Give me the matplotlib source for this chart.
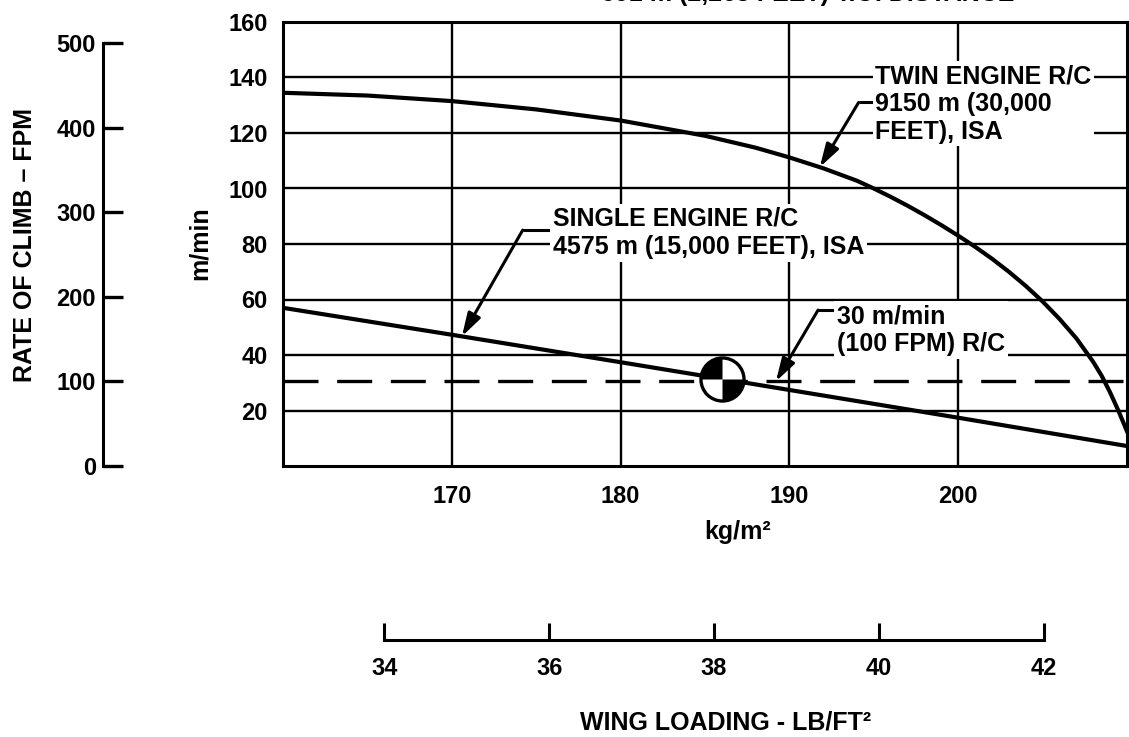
import numpy as np
import matplotlib
matplotlib.use('Agg')
import matplotlib.pyplot as plt
from matplotlib.path import Path

plt.rcParams['font.family'] = ['Liberation Sans', 'DejaVu Sans']
plt.rcParams['font.weight'] = 'bold'
plt.rcParams['axes.labelweight'] = 'bold'

# rate of climb (m/min) against wing loading (kg/m2)
wl_twin = [160, 165, 170, 175, 180, 185, 188, 190, 192, 194, 195, 196, 197, 198,
           199, 200, 201, 202, 203, 204, 205, 206, 207, 208, 208.5, 209, 209.5, 210]
rc_twin = [134.5, 133.5, 131.5, 128.5, 124.5, 119, 114.7, 111.2, 107.3, 102.8, 100,
           97, 93.8, 90.4, 86.8, 83, 79, 74.7, 70, 64.9, 59.3, 53, 46, 37.5,
           32.5, 26.5, 19.8, 12.5]
wl_single = [160, 170, 180, 190, 200, 210]
rc_single = [57.0, 47.3, 37.4, 27.4, 17.4, 7.2]

RC_MIN_FPM = 100
FT_PER_M = 3.28084
KG_PER_LB_FT2 = 4.88243
design_wl = 186.0

x_ticks = [170, 180, 190, 200]
y_ticks = [20, 40, 60, 80, 100, 120, 140, 160]
fpm_ticks = [0, 100, 200, 300, 400, 500]
lb_ticks = [34, 36, 38, 40, 42]

rc_min = RC_MIN_FPM / FT_PER_M
design_rc = np.interp(design_wl, wl_single, rc_single)

W, H = 1129, 737
FS = 17
LFS = 18


def box(x0, y0, x1, y1):
    # pixel box (top-left origin) -> figure fraction rect
    return [x0 / W, 1 - y1 / H, (x1 - x0) / W, (y1 - y0) / H]


fig = plt.figure(figsize=(W / 100, H / 100), dpi=100)

# ── main chart ─────────────────────────────────────────────
ax = fig.add_axes(box(283, 22, 1127, 466))
ax.set_xlim(160, 210)
ax.set_ylim(0, 160)
ax.set_xticks(x_ticks)
ax.set_yticks(y_ticks)
ax.tick_params(length=0, labelsize=FS, pad=11)
ax.tick_params(axis='x', pad=14)
for sp in ax.spines.values():
    sp.set_linewidth(2.2)
ax.grid(True, color='black', lw=1.7)
ax.set_axisbelow(True)

ax.plot(wl_twin, rc_twin, color='black', lw=3.0, solid_joinstyle='round', zorder=3)
ax.plot(wl_single, rc_single, color='black', lw=3.0, zorder=3)
ax.axhline(rc_min, color='black', lw=2.4, dashes=(10.5, 5.6), zorder=3)

# design point symbol
ax.plot(design_wl, design_rc, marker='o', ms=31, mfc='white', mec='black',
        mew=2.4, zorder=5)
for wedge in (Path.wedge(90, 180), Path.wedge(270, 360)):
    ax.plot(design_wl, design_rc, marker=wedge, ms=31, mfc='black',
            mec='black', mew=0, zorder=6)

ax.set_xlabel('kg/m²', fontsize=LFS)
ax.xaxis.set_label_coords(738 / W, 1 - 532 / H, transform=fig.transFigure)
ax.xaxis.label.set_va('center')
ax.set_ylabel('m/min', fontsize=LFS)
ax.yaxis.set_label_coords(200 / W, 1 - 243 / H, transform=fig.transFigure)
ax.yaxis.label.set_va('center')


# ── callouts ───────────────────────────────────────────────
def callout(text, tx, ty, kx, ky, tip_x, tip_curve_x, tip_curve_y):
    tip_y = np.interp(tip_x, tip_curve_x, tip_curve_y)
    ax.text(tx, ty, text, fontsize=LFS, ha='left', va='center', zorder=7,
            linespacing=1.2,
            bbox=dict(facecolor='white', edgecolor='none', pad=2))
    ax.plot([kx, tx], [ky, ky], color='black', lw=2.2, zorder=4,
            solid_capstyle='butt')
    ax.annotate('', xy=(tip_x, tip_y), xytext=(kx, ky), zorder=7,
                arrowprops=dict(arrowstyle='-|>,head_length=1.0,head_width=0.3',
                                color='black', lw=2.2, shrinkA=0, shrinkB=0,
                                mutation_scale=14))


callout('TWIN ENGINE R/C\n9150 m (30,000\nFEET), ISA',
        195.1, 130.5, 194.1, 131.0, 191.8, wl_twin, rc_twin)
callout('SINGLE ENGINE R/C\n4575 m (15,000 FEET), ISA',
        176.0, 84.0, 174.2, 85.0, 170.6, wl_single, rc_single)
callout('30 m/min\n(100 FPM) R/C',
        192.8, 49.0, 191.7, 56.2, 189.2, [160, 210], [rc_min, rc_min])

fig.text(808 / W, 1 - 6 / H, '691 m (2,268 FEET) T.O. DISTANCE', fontsize=LFS,
         ha='center', va='bottom')

# ── rate of climb in ft/min ───────────────────────────────
ax_fpm = fig.add_axes(box(103, 22, 123, 466))
ax_fpm.set_ylim(0, 160 * FT_PER_M)
ax_fpm.set_xlim(0, 1)
for name in ('top', 'right', 'bottom'):
    ax_fpm.spines[name].set_visible(False)
ax_fpm.spines['left'].set_bounds(fpm_ticks[0], fpm_ticks[-1])
ax_fpm.spines['left'].set_linewidth(2.2)
ax_fpm.set_xticks([])
ax_fpm.set_yticks(fpm_ticks)
ax_fpm.tick_params(axis='y', direction='in', length=14.5, width=2.4,
                   labelsize=FS, pad=5)
ax_fpm.patch.set_visible(False)
ax_fpm.set_ylabel('RATE OF CLIMB – FPM', fontsize=LFS)
ax_fpm.yaxis.set_label_coords(25 / W, 1 - 245 / H, transform=fig.transFigure)
ax_fpm.yaxis.label.set_va('center')

# ── wing loading in lb/ft2 ────────────────────────────────
ax_lb = fig.add_axes(box(283, 620, 1127, 640))
ax_lb.set_xlim(160 / KG_PER_LB_FT2, 210 / KG_PER_LB_FT2)
ax_lb.set_ylim(0, 1)
for name in ('top', 'right', 'left'):
    ax_lb.spines[name].set_visible(False)
ax_lb.spines['bottom'].set_bounds(lb_ticks[0], lb_ticks[-1])
ax_lb.spines['bottom'].set_linewidth(2.2)
ax_lb.set_yticks([])
ax_lb.set_xticks(lb_ticks)
ax_lb.tick_params(axis='x', direction='in', length=12, width=2.2,
                  labelsize=FS, pad=12)
ax_lb.patch.set_visible(False)
ax_lb.set_xlabel('WING LOADING - LB/FT²', fontsize=LFS)
ax_lb.xaxis.set_label_coords(726 / W, 1 - 722 / H, transform=fig.transFigure)
ax_lb.xaxis.label.set_va('center')

fig.savefig('out.png', dpi=100)
